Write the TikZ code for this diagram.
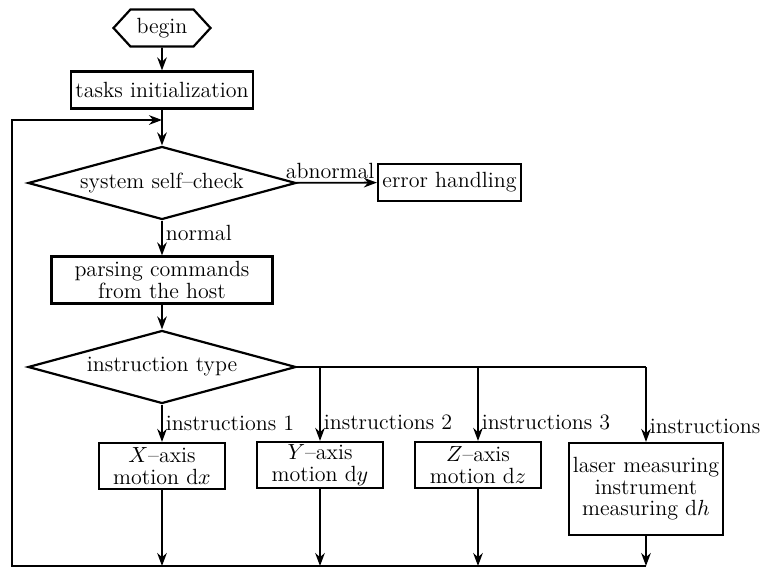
\documentclass[tikz,border=0pt]{standalone}
\usepackage{amsmath}
\usepackage{tikz}
\usetikzlibrary{shapes,arrows.meta,positioning,calc}

\begin{document}
\begin{tikzpicture}[
    x=0.5pt,y=-0.5pt,
    font=\fontsize{11}{10.8}\selectfont,
    bx/.style   = {rectangle,draw,line width=1.1pt,align=center,inner sep=1pt,
                   minimum height=18.5pt},
    bx2/.style  = {bx,minimum width=63pt,minimum height=23pt},
    dec/.style  = {diamond,draw,line width=1.1pt,inner sep=0pt,aspect=3.7,
                   minimum width=134pt,minimum height=36.5pt},
    term/.style = {signal,signal to=west and east,signal pointer angle=95,draw,
                   line width=1.1pt,inner sep=1pt,minimum width=48.5pt,minimum height=18.5pt},
    fl/.style   = {-{Stealth[length=6.5pt,width=4.8pt]},line width=0.9pt},
    ln/.style   = {line width=0.9pt},
    lab/.style  = {inner sep=1.5pt},
  ]
  \useasboundingbox (0,0) rectangle (768,568);

  \node[term] (begin) at (162,28)  {begin};
  \node[bx,minimum width=91pt] (init) at (162,90) {tasks initialization};
  \node[dec] (check) at (162,183) {system self--check};
  \node[bx,minimum width=71.5pt] (err) at (449.5,182.5) {error handling};
  \node[bx,minimum width=110.5pt,minimum height=23.5pt] (parse) at (162,280)
       {parsing commands\\from the host};
  \node[dec] (type) at (162,367) {instruction type};

  \node[bx2] (mx) at (162,466)   {$X$--axis\\motion d$x$};
  \node[bx2] (my) at (320,465)   {$Y$--axis\\motion d$y$};
  \node[bx2] (mz) at (478,465)   {$Z$--axis\\motion d$z$};
  \node[bx,minimum width=77pt,minimum height=46pt] (laser) at (646,489)
       {laser measuring\\instrument\\measuring d$h$};

  \coordinate (join) at (162,120);
  \coordinate (back) at (12,566);

  \foreach \a/\b in {begin/init,parse/type} \draw[fl] (\a) -- (\b);
  \draw[ln] (init) -- (join);
  \draw[fl] (join) -- (check);
  \draw[fl] (check) -- node[lab,above,pos=0.42] {abnormal} (err);
  \draw[fl] (check) -- node[lab,right,pos=0.35] {normal} (parse);

  % branches of the instruction type
  \draw[ln] (type.east) -- (type.east -| laser.north);
  \draw[fl] (type) -- node[lab,right] {instructions 1} (mx);
  \draw[fl] (type.east -| my.north) -- node[lab,right,pos=0.75] {instructions 2} (my);
  \draw[fl] (type.east -| mz.north) -- node[lab,right,pos=0.75] {instructions 3} (mz);
  \draw[fl] (type.east -| laser.north) -- node[lab,right,pos=0.8] {instructions} (laser);

  % back to the self-check
  \foreach \n in {mx,my,mz,laser} \draw[fl] (\n) -- (\n.south |- back);
  \draw[fl] (laser.south |- back) -- (back) -- (back |- join) -- (join);

\end{tikzpicture}
\end{document}
